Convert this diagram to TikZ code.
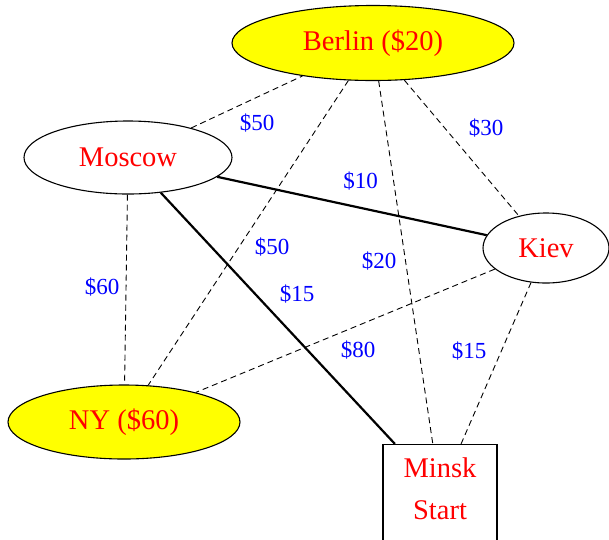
\documentclass[tikz,border=0pt]{standalone}
\usepackage{fontspec}
\setmainfont{Liberation Serif}
\usetikzlibrary{shapes.geometric}
\definecolor{cityred}{RGB}{255,0,0}
\definecolor{costblue}{RGB}{0,0,255}
\definecolor{hubyellow}{RGB}{255,255,0}
\tikzset{
  city/.style={ellipse, draw=black, line width=1.1pt, inner sep=0pt,
    text=cityred, font=\fontsize{28.5}{34}\selectfont},
  hub/.style={city, fill=hubyellow},
  startbox/.style={rectangle, draw=black, line width=1.1pt, inner sep=0pt,
    text=cityred, align=center, text depth=8pt, font=\fontsize{28.5}{41.3}\selectfont},
  route/.style={draw=black, line width=0.9pt, dash pattern=on 6pt off 4pt},
  direct/.style={draw=black, line width=2.2pt},
  cost/.style={text=costblue, inner sep=0pt, font=\fontsize{23}{28}\selectfont}
}
\begin{document}
\begin{tikzpicture}[x=1pt, y=-1pt]
\useasboundingbox (0,0) rectangle (609,539);
\fill[white] (0,0) rectangle (609,539);

% cities
\node[hub, minimum width=282pt, minimum height=75pt] (berlin) at (373,43) {Berlin (\$20)};
\node[city, minimum width=208pt, minimum height=73pt] (moscow) at (128,157.5) {Moscow};
\node[city, minimum width=126pt, minimum height=70pt] (kiev) at (546,248) {Kiev};
\node[hub, minimum width=232pt, minimum height=74pt] (ny) at (124,422) {NY (\$60)};
\node[startbox, minimum width=114pt, minimum height=96pt] (minsk) at (440,492.5) {Minsk\\Start};

% connections
\draw[route] (moscow) -- (berlin);
\draw[route] (berlin) -- (kiev);
\draw[route] (berlin) -- (ny);
\draw[route] (berlin) -- (minsk);
\draw[route] (moscow) -- (ny);
\draw[route] (kiev) -- (ny);
\draw[route] (kiev) -- (minsk);
\draw[direct] (moscow) -- (kiev);
\draw[direct] (moscow) -- (minsk);

% prices
\node[cost] (c1) at (257,123) {\$50};
\node[cost] (c2) at (486,128) {\$30};
\node[cost] (c3) at (360.5,181.5) {\$10};
\node[cost] (c4) at (272,247) {\$50};
\node[cost] (c5) at (379,261.5) {\$20};
\node[cost] (c6) at (102,287.5) {\$60};
\node[cost] (c7) at (297,294) {\$15};
\node[cost] (c8) at (358,350) {\$80};
\node[cost] (c9) at (469,351) {\$15};
\end{tikzpicture}
\end{document}
